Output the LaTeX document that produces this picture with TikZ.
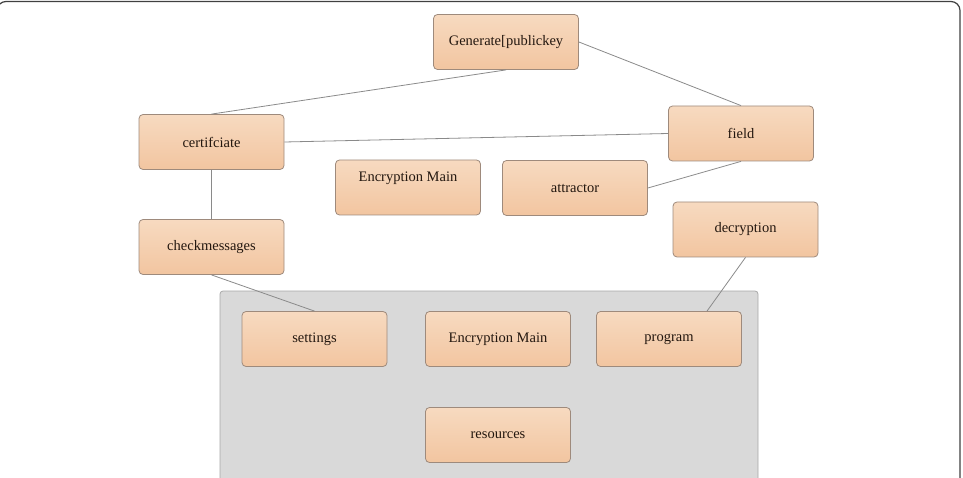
\documentclass[tikz,border=0pt]{standalone}
\usepackage{fontspec}
\setmainfont{Liberation Serif}
\usetikzlibrary{calc}
\definecolor{boxtop}{HTML}{F7DAC0}
\definecolor{boxbot}{HTML}{F2C5A0}
\definecolor{boxline}{HTML}{9E8A7C}
\definecolor{txt}{HTML}{23170F}
\definecolor{wire}{HTML}{8A8A8A}
\definecolor{panel}{HTML}{D9D9D9}
\definecolor{panelline}{HTML}{A8A8A8}
\definecolor{frameline}{HTML}{404040}
\tikzset{
  x=1pt, y=-1pt,
  block/.style={draw=boxline, line width=0.8pt, rounded corners=4pt,
    top color=boxtop, bottom color=boxbot,
    minimum width=145pt, minimum height=55pt, inner sep=0pt,
    text=txt, font=\fontsize{14.5}{16}\selectfont},
  caption/.style={text=txt, font=\fontsize{14.5}{16}\selectfont, inner sep=0pt},
  link/.style={draw=wire, line width=0.8pt}
}
\begin{document}
\begin{tikzpicture}
\useasboundingbox (0,0) rectangle (963,478);
% outer frame, its left side just off the page
\begin{scope}
  \clip (0,0) rectangle (963,478);
  \draw[frameline, line width=1.2pt, rounded corners=9pt] (-3,1.5) rectangle (960,520);
\end{scope}
% grey container
\draw[panelline, fill=panel, line width=0.8pt, rounded corners=3pt] (220,291) rectangle (758,500);

% blocks
\node[block] (gen)  at (506,42)    {Generate[publickey};
\node[block] (cert) at (211.5,142) {certifciate};
\node[block] (em1)  at (408,187.5) {};
\node[caption] (em1t) at (408,178) {Encryption Main};
\node[block] (attr) at (575,188)   {attractor};
\node[block] (fld)  at (741,133.5) {field};
\node[block] (dec)  at (745.5,229.5) {decryption};
\node[block] (chk)  at (211.5,247) {checkmessages};
\node[block] (set)  at (314.5,339) {settings};
\node[block] (em2)  at (498,339)   {Encryption Main};
\node[block] (prog) at (669,339)   {program};
\node[block] (res)  at (498,435)   {resources};

% connectors
\draw[link] (gen.south) -- (cert.north);
\draw[link] (gen.east) -- (fld.north);
\draw[link] (cert.east) -- (fld.west);
\draw[link] (fld.south) -- (attr.east);
\draw[link] (cert.south) -- (chk.north);
\draw[link] (chk.south) -- (set.north);
\draw[link] (dec.south) -- ([xshift=38pt]prog.north);
\end{tikzpicture}
\end{document}
